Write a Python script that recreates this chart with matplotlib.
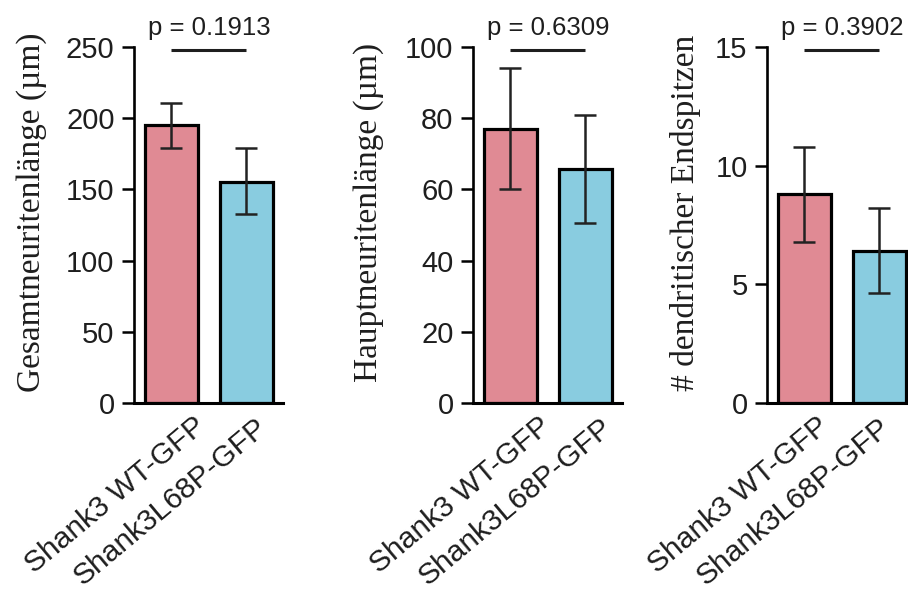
import matplotlib
matplotlib.use("Agg")
import matplotlib.pyplot as plt
from matplotlib.transforms import ScaledTranslation

# ---- data ----
groups = ["Shank3 WT-GFP", "Shank3L68P-GFP"]
ylabels = ["Gesamtneuritenlänge (µm)", "Hauptneuritenlänge (µm)", "# dendritischer Endspitzen"]
means = [[195, 155.5], [77, 65.6], [8.8, 6.4]]
err_up = [[15.5, 23.5], [17.2, 15.3], [2.0, 1.8]]
err_down = [[16, 23], [16.8, 15.0], [2.0, 1.75]]
ymax = [250, 100, 15]
yticks = [[0, 50, 100, 150, 200, 250], [0, 20, 40, 60, 80, 100], [0, 5, 10, 15]]
pvalues = ["p = 0.1913", "p = 0.6309", "p = 0.3902"]

bar_colors = ["#E08A94", "#89CCE0"]
dark = "#1e1e1e"

fig = plt.figure(figsize=(9.08, 5.94), dpi=100)
W, H = 908, 594

panel_left = [134, 473, 767]
ylabel_x = [-0.585, -0.60, -0.44]
label_shift = [-0.06, 0.0, -0.16]
ax_w = 149
y0, ytop = 403, 47

for i in range(3):
    ax = fig.add_axes([panel_left[i] / W, (H - y0) / H, ax_w / W, (y0 - ytop) / H])
    x = [0, 1]
    ax.bar(x, means[i], width=0.71, color=bar_colors, edgecolor="black",
           linewidth=2.3, zorder=2)
    ax.errorbar(x, means[i], yerr=[err_down[i], err_up[i]], fmt="none",
                ecolor="#222222", elinewidth=1.8, capsize=8, capthick=1.8, zorder=3)
    ax.set_xlim(-0.5, 1.487)
    ax.set_ylim(0, ymax[i])
    ax.set_yticks(yticks[i])
    ax.tick_params(axis="y", length=9, width=1.8, pad=5, labelsize=21,
                   labelcolor=dark, color="black")
    for lab in ax.get_yticklabels():
        lab.set_fontfamily("Liberation Sans")
    ax.set_xticks(x)
    ax.set_xticklabels(groups, rotation=40, rotation_mode="anchor", ha="right",
                       va="center", fontsize=21.5, family="Liberation Sans", color=dark)
    ax.tick_params(axis="x", length=0, pad=0)
    offsets = [(0.37, -0.19), (0.235, -0.21)]
    for lab, (dx, dy) in zip(ax.get_xticklabels(), offsets):
        lab.set_transform(lab.get_transform() +
                          ScaledTranslation(dx + label_shift[i], dy, fig.dpi_scale_trans))
    for s in ["top", "right"]:
        ax.spines[s].set_visible(False)
    ax.spines["left"].set_linewidth(1.9)
    ax.spines["bottom"].set_linewidth(2.2)
    ax.set_ylabel(ylabels[i], fontsize=24, family="Liberation Serif", color=dark)
    ax.yaxis.set_label_coords(ylabel_x[i], 0.535)
    yline = ymax[i] * 0.992
    ax.plot([0, 1], [yline, yline], color=dark, lw=2.2, clip_on=False,
            solid_capstyle="butt", zorder=4)
    ax.annotate(pvalues[i], xy=(0.5, yline), xytext=(0, 10.5), textcoords="offset points",
                ha="center", va="baseline", fontsize=18.5, family="Liberation Sans",
                color=dark, annotation_clip=False)
    ax.patch.set_alpha(0)

fig.savefig("out.png", dpi=100)
